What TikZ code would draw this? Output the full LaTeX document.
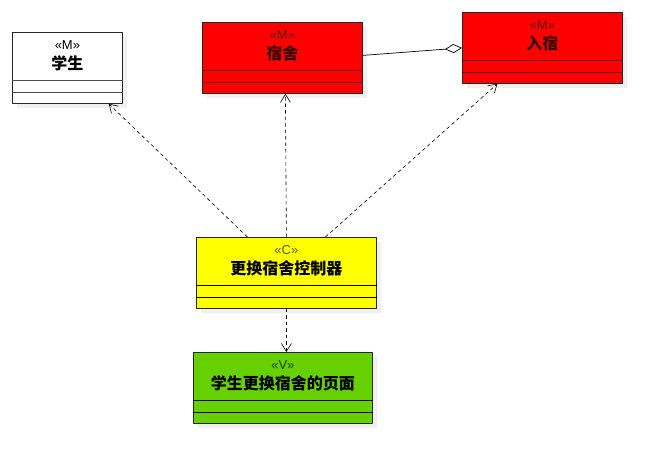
\documentclass[tikz,border=0pt]{standalone}
\usepackage{fontspec}
\setmainfont{Noto Sans CJK SC}
\newfontfamily\stfont{Liberation Sans}
\usetikzlibrary{arrows.meta,shadows}
\definecolor{modelred}{HTML}{FF0000}
\definecolor{ctrlyellow}{HTML}{FFFF00}
\definecolor{viewgreen}{HTML}{66D000}
\newcommand{\stereo}[2]{{\stfont\fontsize{13}{20}\selectfont\mdseries\color{#1}«#2»}}
\begin{document}
\begin{tikzpicture}[x=1pt,y=-1pt,line join=round,
	cls/.style={draw=black!85,line width=0.8pt,anchor=north west,minimum height=71pt,inner sep=0pt,
		drop shadow={opacity=0.12,shadow xshift=5pt,shadow yshift=-5pt}},
	txt/.style={anchor=north,align=center,inner sep=0pt,font=\fontsize{16}{20}\selectfont\bfseries},
	dep/.style={dash pattern=on 3.5pt off 3pt,line width=0.6pt,-{Straight Barb[length=8pt,width=10pt]}},
	agg/.style={line width=0.7pt,-{Diamond[open,length=17pt,width=9pt]}}]
	\useasboundingbox (0,0) rectangle (672,473);
	% classes
	\node[cls,fill=white,minimum width=110pt] (stu) at (12,32) {};
	\node[cls,fill=modelred,minimum width=160pt] (dorm) at (202,22) {};
	\node[cls,fill=modelred,minimum width=160pt] (live) at (462,12) {};
	\node[cls,fill=ctrlyellow,minimum width=180pt] (ctrl) at (196,237) {};
	\node[cls,fill=viewgreen,minimum width=179pt] (page) at (193,352) {};
	\foreach \n/\c in {stu/black!70,dorm/modelred!45!black,live/modelred!45!black,ctrl/black,page/black}{
		\draw[\c,line width=0.7pt] ([yshift=23pt]\n.south west) -- ([yshift=23pt]\n.south east);
		\draw[\c,line width=0.7pt] ([yshift=11pt]\n.south west) -- ([yshift=11pt]\n.south east);
	}
	\node[txt] (stut) at ([yshift=-8pt]stu.north) {\stereo{black}{M}\\学生};
	\node[txt,text=modelred!20!black] (dormt) at ([yshift=-8pt]dorm.north) {\stereo{modelred!40!black}{M}\\宿舍};
	\node[txt,text=modelred!20!black] (livet) at ([yshift=-8pt]live.north) {\stereo{modelred!40!black}{M}\\入宿};
	\node[txt] (ctrlt) at ([yshift=-8pt]ctrl.north) {\stereo{ctrlyellow!35!black}{C}\\更换宿舍控制器};
	\node[txt] (paget) at ([yshift=-8pt]page.north) {\stereo{viewgreen!30!black}{V}\\学生更换宿舍的页面};
	% links
	\draw[dep] ([xshift=-39pt]ctrl.north) -- ([xshift=-14pt]stu.south east);
	\draw[dep] (ctrl.north) -- ([xshift=3pt]dorm.south);
	\draw[dep] ([xshift=39pt]ctrl.north) -- ([xshift=-45pt]live.south);
	\draw[dep] (ctrl.south) -- (ctrl.south |- page.north);
	\draw[agg] ([yshift=2.5pt]dorm.east) -- (live.west);
\end{tikzpicture}
\end{document}
